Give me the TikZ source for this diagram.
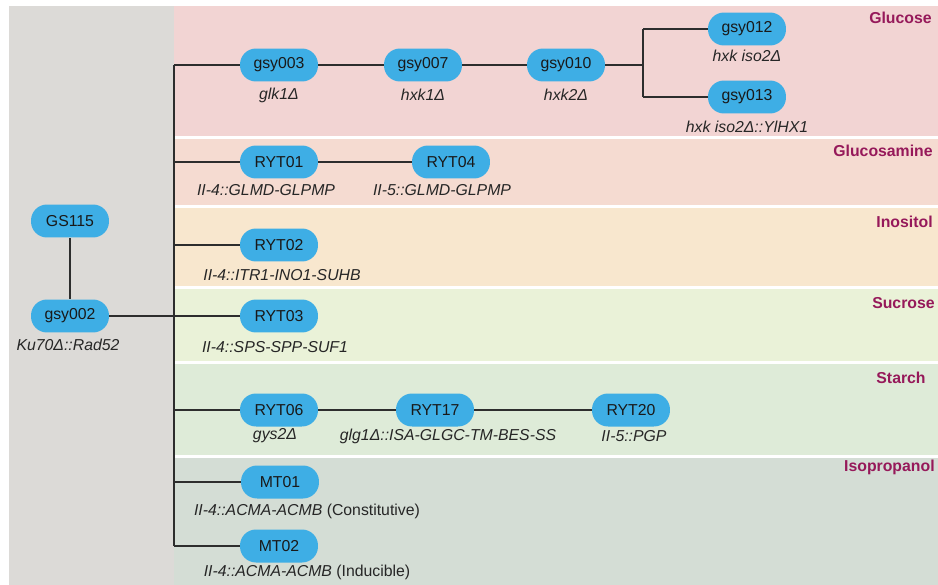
\documentclass[tikz,border=0pt]{standalone}
\usepackage{fontspec}
\setmainfont{Liberation Sans}
\definecolor{basegray}{RGB}{220,218,215}
\definecolor{glucose}{RGB}{242,212,211}
\definecolor{glucosamine}{RGB}{245,219,209}
\definecolor{inositol}{RGB}{248,231,206}
\definecolor{sucrose}{RGB}{234,242,216}
\definecolor{starch}{RGB}{222,235,216}
\definecolor{isoprop}{RGB}{212,221,213}
\definecolor{nodeblue}{RGB}{62,174,229}
\definecolor{grouptxt}{RGB}{150,25,90}
\definecolor{linegray}{RGB}{45,45,45}
\begin{document}
\begin{tikzpicture}[x=0.02cm,y=-0.02cm,
  strain/.style={fill=nodeblue, rounded corners=3.2mm, minimum width=1.56cm,
    minimum height=0.66cm, inner sep=0pt, font=\fontsize{9}{11}\selectfont, text=black!90},
  geno/.style={inner sep=0pt, font=\fontsize{9}{11}\selectfont\itshape, text=black!85},
  group/.style={inner sep=0pt, anchor=east, font=\fontsize{9}{11}\selectfont\bfseries, text=grouptxt},
  link/.style={draw=linegray, line width=0.6pt}]
\useasboundingbox (0,0) rectangle (938,585);

% background bands
\fill[basegray] (9,6) rectangle (174,585);
\fill[glucose] (174,6) rectangle (938,136);
\fill[glucosamine] (174,139) rectangle (938,205);
\fill[inositol] (174,208) rectangle (938,286);
\fill[sucrose] (174,289) rectangle (938,361);
\fill[starch] (174,364) rectangle (938,455);
\fill[isoprop] (174,458) rectangle (938,585);

\node[group] (gGlucose) at (932,18) {Glucose};
\node[group] (gGlucosamine) at (933,151) {Glucosamine};
\node[group] (gInositol) at (933,222) {Inositol};
\node[group] (gSucrose) at (935,303) {Sucrose};
\node[group] (gStarch) at (926,378) {Starch};
\node[group] (gIsoprop) at (935,467) {Isopropanol};

% parent strains
\node[strain] (GS115) at (70,221) {GS115};
\node[strain] (gsy002) at (70,316) {gsy002};
\node[geno] (l002) at (68,345) {Ku70Δ::Rad52};

% glucose
\node[strain] (gsy003) at (279,65) {gsy003};
\node[strain] (gsy007) at (423,65) {gsy007};
\node[strain] (gsy010) at (566,65) {gsy010};
\node[strain] (gsy012) at (747,29) {gsy012};
\node[strain] (gsy013) at (747,97) {gsy013};
\node[geno] (l003) at (279,95) {glk1Δ};
\node[geno] (l007) at (423,95) {hxk1Δ};
\node[geno] (l010) at (566,95) {hxk2Δ};
\node[geno] (l012) at (747,56) {hxk iso2Δ};
\node[geno] (l013) at (747,127) {hxk iso2Δ::YlHX1};

% glucosamine
\node[strain] (RYT01) at (279,162) {RYT01};
\node[strain] (RYT04) at (451,162) {RYT04};
\node[geno] (l01) at (266,190) {II-4::GLMD-GLPMP};
\node[geno] (l04) at (442,190) {II-5::GLMD-GLPMP};

% inositol
\node[strain] (RYT02) at (279,245) {RYT02};
\node[geno] (l02) at (282,275) {II-4::ITR1-INO1-SUHB};

% sucrose
\node[strain] (RYT03) at (279,316) {RYT03};
\node[geno] (l03) at (275,347) {II-4::SPS-SPP-SUF1};

% starch
\node[strain] (RYT06) at (279,410) {RYT06};
\node[strain] (RYT17) at (435,410) {RYT17};
\node[strain] (RYT20) at (631,410) {RYT20};
\node[geno] (l06) at (275,436) {gys2Δ};
\node[geno] (l17) at (448,436) {glg1Δ::ISA-GLGC-TM-BES-SS};
\node[geno] (l20) at (634,436) {II-5::PGP};

% isopropanol
\node[strain] (MT01) at (280,482) {MT01};
\node[strain] (MT02) at (279,546) {MT02};
\node[geno] (lmt1) at (307,511) {II-4::ACMA-ACMB \upshape(Constitutive)};
\node[geno] (lmt2) at (307,572) {II-4::ACMA-ACMB \upshape(Inducible)};

% trunk and branch points
\coordinate (t1) at (174,65);
\coordinate (t2) at (174,162);
\coordinate (t3) at (174,245);
\coordinate (t5) at (174,410);
\coordinate (t6) at (174,482);
\coordinate (t7) at (174,546);
\coordinate (b1) at (643,65);
\coordinate (b2) at (643,29);
\coordinate (b3) at (643,97);

\draw[link] (GS115) -- (gsy002);
\draw[link] (gsy002) -- (RYT03);
\draw[link] (t1) -- (t7);
\draw[link] (t1) -- (gsy003);
\draw[link] (gsy003) -- (gsy007);
\draw[link] (gsy007) -- (gsy010);
\draw[link] (gsy010) -- (b1);
\draw[link] (b2) -- (b3);
\draw[link] (b2) -- (gsy012);
\draw[link] (b3) -- (gsy013);
\draw[link] (t2) -- (RYT01);
\draw[link] (RYT01) -- (RYT04);
\draw[link] (t3) -- (RYT02);
\draw[link] (t5) -- (RYT06);
\draw[link] (RYT06) -- (RYT17);
\draw[link] (RYT17) -- (RYT20);
\draw[link] (t6) -- (MT01);
\draw[link] (t7) -- (MT02);
\end{tikzpicture}
\end{document}
